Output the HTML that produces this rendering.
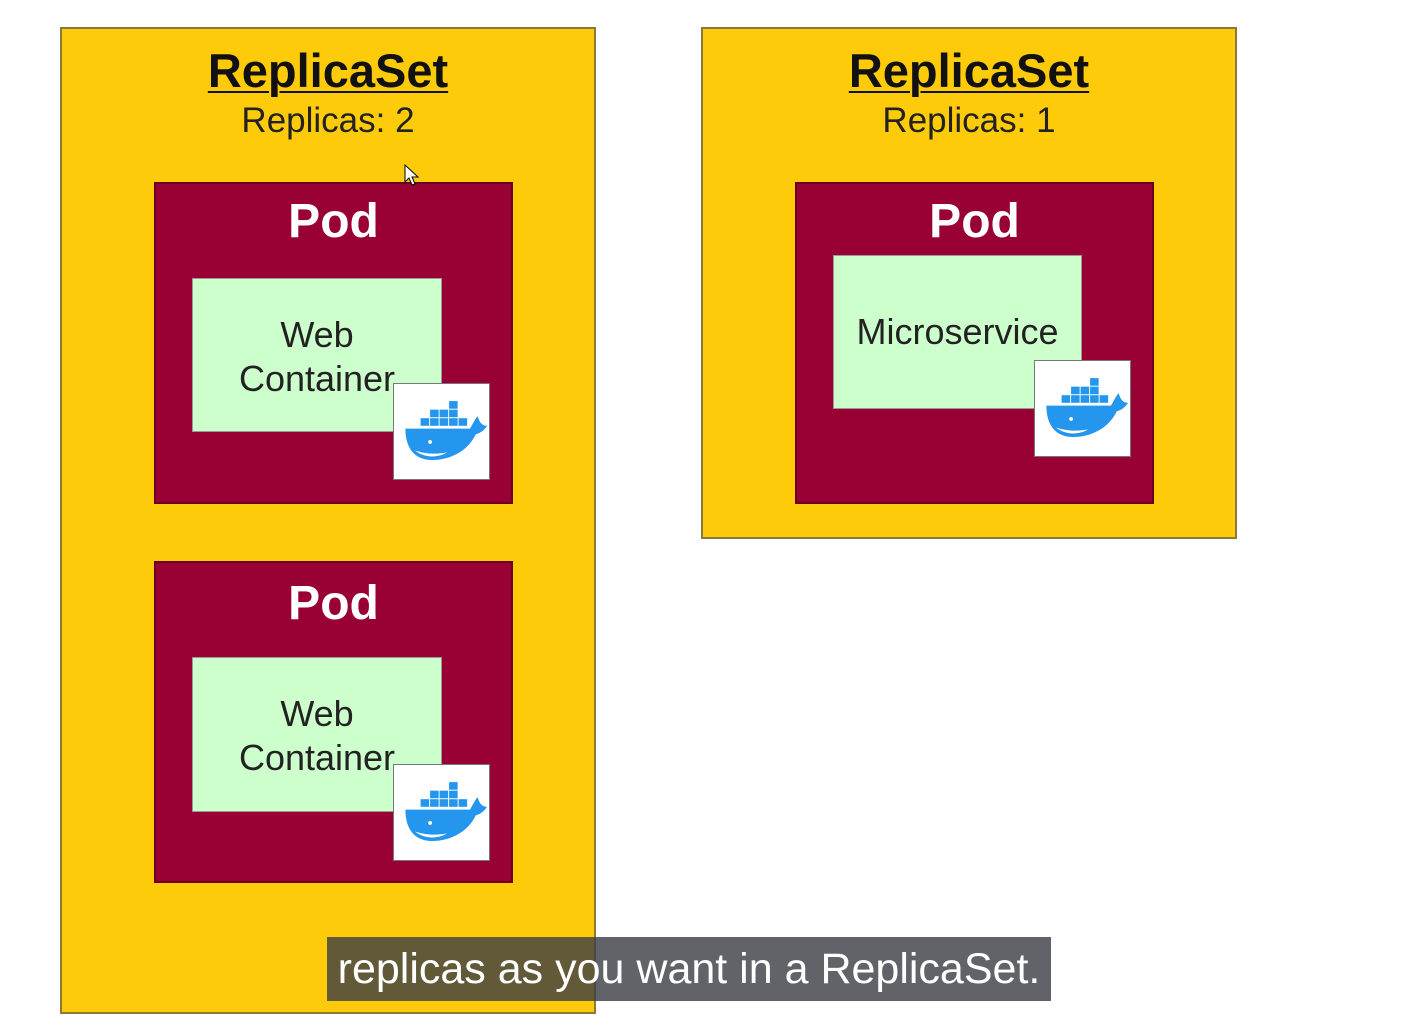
<!DOCTYPE html>
<html><head><style>
body{margin:0;width:1408px;height:1033px;background:#fff;position:relative;overflow:hidden;font-family:"Liberation Sans",sans-serif}
.rs{position:absolute;background:#fecb0a;border:2px solid #8a7a3a;box-sizing:border-box}
.pod{position:absolute;background:#990033;border:2px solid #6a0022;box-sizing:border-box}
.ct{position:absolute;background:#ccffcc;border:1px solid #999;box-sizing:border-box;color:#222;font-size:36px;text-align:center;line-height:44px}
.dk{position:absolute;background:#fff;border:1px solid #777;box-sizing:border-box;width:97px;height:97px}
.t{position:absolute;text-align:center;width:100%;left:0}
.title{font-weight:bold;font-size:47px;text-decoration:underline;text-decoration-thickness:2px;text-underline-offset:4px;color:#111;letter-spacing:0}
.rep{font-size:35px;color:#222}
.pt{font-weight:bold;font-size:48px;color:#fff}
</style></head><body>
<svg width="0" height="0" style="position:absolute"><defs><symbol id="wh" viewBox="0 0 100 100">
<g fill="#2496ed"><rect x="28" y="36" width="9" height="8"/><rect x="38" y="36" width="9" height="8"/><rect x="48" y="36" width="9" height="8"/><rect x="58" y="36" width="9" height="8"/><rect x="68" y="36" width="9" height="8"/><rect x="38" y="27" width="9" height="8"/><rect x="48" y="27" width="9" height="8"/><rect x="58" y="27" width="9" height="8"/><rect x="58" y="18" width="9" height="8"/>
<path d="M12 47 H80 C84 40 86 36 88 34 C90 40 92 44 98 44 C94 50 90 52 86 53 C78 70 60 80 40 80 C22 80 12 68 12 47Z"/></g>
<path d="M22 70 C32 78 46 78 56 72 C46 74 34 74 22 70Z" fill="#fff"/><circle cx="38" cy="61" r="2" fill="#fff"/>
</symbol></defs></svg>

<div class="rs" style="left:60px;top:27px;width:536px;height:987px">
 <div class="t title" style="top:14px">ReplicaSet</div>
 <div class="t rep" style="top:72px">Replicas: 2</div>
</div>
<div class="rs" style="left:701px;top:27px;width:536px;height:512px">
 <div class="t title" style="top:14px">ReplicaSet</div>
 <div class="t rep" style="top:72px">Replicas: 1</div>
</div>

<div class="pod" style="left:154px;top:182px;width:359px;height:322px"><div class="t pt" style="top:10px">Pod</div></div>
<div class="ct" style="left:192px;top:278px;width:250px;height:154px;padding-top:34px">Web<br>Container</div>
<div class="dk" style="left:393px;top:383px"><svg width="95" height="95"><use href="#wh"/></svg></div>

<div class="pod" style="left:154px;top:561px;width:359px;height:322px"><div class="t pt" style="top:13px">Pod</div></div>
<div class="ct" style="left:192px;top:657px;width:250px;height:155px;padding-top:34px">Web<br>Container</div>
<div class="dk" style="left:393px;top:764px"><svg width="95" height="95"><use href="#wh"/></svg></div>

<div class="pod" style="left:795px;top:182px;width:359px;height:322px"><div class="t pt" style="top:10px">Pod</div></div>
<div class="ct" style="left:833px;top:255px;width:249px;height:154px;padding-top:54px">Microservice</div>
<div class="dk" style="left:1034px;top:360px"><svg width="95" height="95"><use href="#wh"/></svg></div>

<div style="position:absolute;left:327px;top:937px;width:724px;height:64px;background:rgba(58,60,66,0.8);color:#fff;font-size:43px;line-height:64px;text-align:center">replicas as you want in a ReplicaSet.</div>
<svg style="position:absolute;left:404px;top:164px" width="16" height="24"><path d="M1 1 L1 18 L5 14 L8 21 L11 20 L8 13 L14 13Z" fill="#fff" stroke="#000" stroke-width="1"/></svg>
</body></html>
